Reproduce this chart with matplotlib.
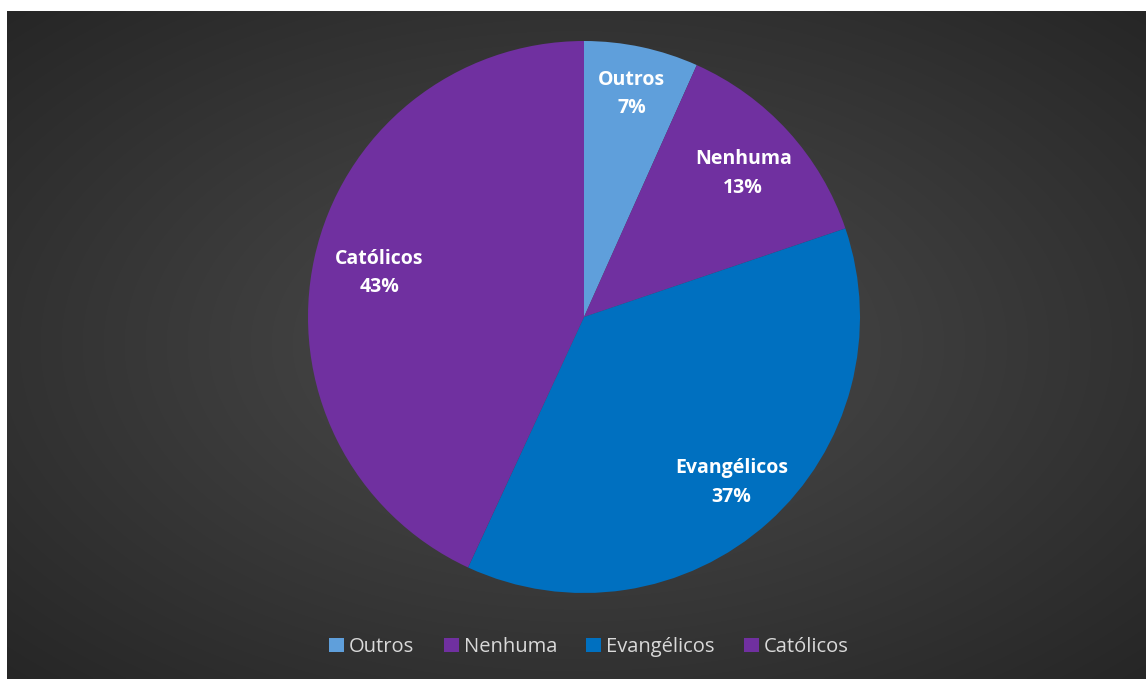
import numpy as np
import matplotlib
matplotlib.use("Agg")
import matplotlib.pyplot as plt
from matplotlib.patches import Patch

categories = ["Outros", "Nenhuma", "Evangélicos", "Católicos"]
shares = [6.7, 13.1, 37.1, 43.1]
colors = ["#5f9fdb", "#7030a0", "#0070c0", "#7030a0"]

W, H = 1146, 679
fig = plt.figure(figsize=(W / 100, H / 100), dpi=100)
fig.patch.set_facecolor("white")

# dark radial gradient panel
bg = fig.add_axes([7 / W, 0, 1 - 7 / W, 1 - 11 / H])
yy, xx = np.mgrid[-1:1:300j, -1:1:500j]
d = np.sqrt(xx ** 2 + yy ** 2) / np.sqrt(2)
shade = 0.30 - 0.15 * d
bg.imshow(np.dstack([shade] * 3), aspect="auto", extent=[0, 1, 0, 1], interpolation="bilinear")
bg.set_axis_off()

# pie
cx, cy, r = 584, 317, 276
ax = fig.add_axes([(cx - r) / W, (H - cy - r) / H, 2 * r / W, 2 * r / H])
wedges, _ = ax.pie(shares, colors=colors, startangle=90, counterclock=False,
                   radius=1, wedgeprops=dict(linewidth=0))
ax.set_xlim(-1, 1)
ax.set_ylim(-1, 1)

label_r = [0.83, 0.78, 0.80, 0.76]
for w, name, val, lr in zip(wedges, categories, shares, label_r):
    th = np.deg2rad((w.theta1 + w.theta2) / 2)
    ax.text(lr * np.cos(th), lr * np.sin(th) - 0.005, f"{name}\n{val:.0f}%",
            ha="center", va="center", color="white", fontsize=14,
            fontweight="bold", family="Open Sans", linespacing=1.55)

handles = [Patch(facecolor=c, edgecolor="none") for c in colors]
fig.legend(handles, categories, loc="center", bbox_to_anchor=(589 / W, 1 - 647 / H),
           ncol=4, frameon=False, labelcolor="#d9d9d9",
           handlelength=0.75, handleheight=0.75, handletextpad=0.25,
           columnspacing=1.45, prop=dict(family="Open Sans", size=14.5))

fig.savefig("out.png", dpi=100)
